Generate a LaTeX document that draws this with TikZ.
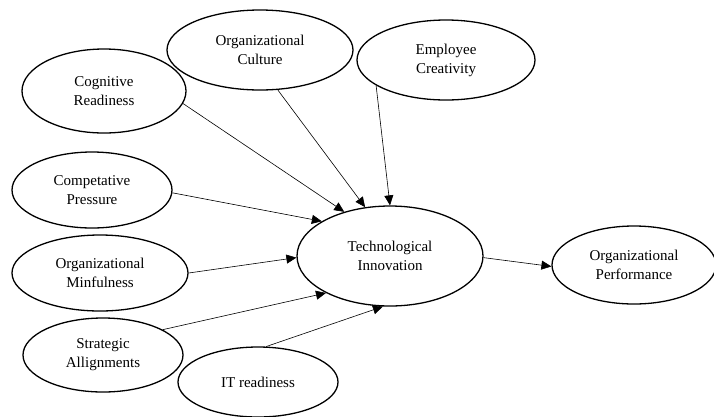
\documentclass[tikz,border=0pt]{standalone}
\usepackage{fontspec}
\setmainfont{Liberation Serif}
\usepackage{tikz}
\usetikzlibrary{arrows.meta}
\usetikzlibrary{shapes.geometric}
\tikzset{var/.style = {draw, ellipse, line width = 1.3, inner sep = 0, align = center,
    font = \fontsize{15}{19}\selectfont}}
\tikzset{arr/.style = {line width = 0.6, -{Triangle[length = 10, width = 9]}}}

\begin{document}
\begin{tikzpicture}[x = 1pt, y = -1pt]
      \useasboundingbox (0, 0) rectangle (714, 416);

      \node [var, minimum width = 164, minimum height = 84] (cr) at (104, 91) {Cognitive\\Readiness};
      \node [var, minimum width = 186, minimum height = 80] (oc) at (260, 50) {Organizational\\Culture};
      \node [var, minimum width = 178, minimum height = 80] (ec) at (446, 60) {Employee\\Creativity};
      \node [var, minimum width = 160, minimum height = 76] (cp) at (92, 190) {Competative\\Pressure};
      \node [var, minimum width = 176, minimum height = 76] (om) at (100, 273) {Organizational\\Minfulness};
      \node [var, minimum width = 160, minimum height = 74] (sa) at (103, 355) {Strategic\\Allignments};
      \node [var, minimum width = 160, minimum height = 70] (it) at (258, 382) {IT readiness};
      \node [var, minimum width = 186, minimum height = 100] (ti) at (390, 256) {Technological\\Innovation};
      \node [var, minimum width = 164, minimum height = 78] (op) at (634, 265) {Organizational\\Performance};

      % antecedents of innovation
      \foreach \a/\b in {cr.-9/136, oc.-66/117, ec.200/90, cp.-2/153, om.0/181, sa.23/210, it.77/262} {
        \draw [arr] (\a) -- (ti.\b);
      }
      \draw [arr] (ti.-1) -- (op.181);
    \end{tikzpicture}
\end{document}
